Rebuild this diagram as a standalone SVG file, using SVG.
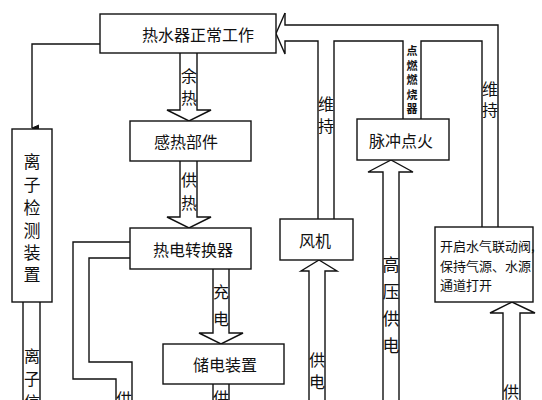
<svg xmlns="http://www.w3.org/2000/svg" width="542" height="400" viewBox="0 0 542 400">
<defs>
<style>
.b{fill:#fff;stroke:#111;stroke-width:1.4}
.c{fill:none;stroke:#111;stroke-width:1.4;stroke-linejoin:miter}
text{font-family:"Noto Sans CJK SC","Noto Sans",sans-serif;fill:#111;dominant-baseline:central}
.t{font-size:16px;text-anchor:middle}
.v{font-size:16px;text-anchor:middle}
.s{font-size:11px;font-weight:bold;text-anchor:middle}
.m{font-size:13px}
</style>
<marker id="ah" markerWidth="8" markerHeight="8" refX="4" refY="7" orient="auto" markerUnits="userSpaceOnUse">
<path d="M1,0 L4,7 L7,0" fill="#111" stroke="#111" stroke-width="1"/>
</marker>
</defs>
<rect width="542" height="400" fill="#fff"/>
<g id="connectors">
<!-- big feedback arrow into 热水器正常工作 -->
<path class="c" d="M285,13 L276,33.5 L285,54 L285,41 L318,41 L318,219"/>
<path class="c" d="M285,13 L285,25 L498,25 L498,227"/>
<path class="c" d="M334,219 L334,41 L403,41 L403,119"/>
<path class="c" d="M421,119 L421,41 L482,41 L482,227"/>
<!-- 余热 -->
<path class="c" d="M180,53 L180,110 L167,110 L189,121 L211,110 L197,110 L197,53"/>
<!-- 供热 -->
<path class="c" d="M180,161 L180,217 L167,217 L189,228 L211,217 L197,217 L197,161"/>
<!-- 充电 -->
<path class="c" d="M213,269 L213,333 L199,333 L221,344 L243,333 L229,333 L229,269"/>
<!-- 储电 供 -->
<path class="c" d="M213,384 L213,400 M229,384 L229,400"/>
<!-- left channel from 热电转换器 -->
<path class="c" d="M130,242 L73,242 L73,379 L116,379 L116,400"/>
<path class="c" d="M130,258 L89,258 L89,362 L132,362 L132,400"/>
<!-- 离子 channel -->
<path class="c" d="M23,302 L23,400 M40,302 L40,400"/>
<!-- line to 离子检测装置 -->
<path class="c" d="M100,44 L32,44 L32,128" marker-end="url(#ah)"/>
<!-- 风机 供电 -->
<path class="c" d="M309,400 L309,271 L301,271 L319,260 L337,271 L325,271 L325,400"/>
<!-- 高压供电 -->
<path class="c" d="M383,400 L383,172 L368,172 L391,160 L413,172 L399,172 L399,400"/>
<!-- 开启 supply -->
<path class="c" d="M503,400 L503,313 L490,313 L512,302 L535,313 L520,313 L520,400"/>
<!-- connector labels -->
<text class="v" x="189" y="75">余</text>
<text class="v" x="189" y="97">热</text>
<text class="v" x="189" y="179">供</text>
<text class="v" x="189" y="202">热</text>
<text class="v" x="221" y="291">充</text>
<text class="v" x="221" y="318">电</text>
<text class="v" x="221" y="397">供</text>
<text class="v" x="124" y="398">供</text>
<text class="v" x="32" y="355">离</text>
<text class="v" x="32" y="378">子</text>
<text class="v" x="32" y="401">信</text>
<text class="v" x="326" y="103">维</text>
<text class="v" x="326" y="125">持</text>
<text class="v" x="490" y="88">维</text>
<text class="v" x="490" y="109">持</text>
<text class="s" x="412" y="50">点</text>
<text class="s" x="412" y="64.5">燃</text>
<text class="s" x="412" y="79">燃</text>
<text class="s" x="412" y="93.5">烧</text>
<text class="s" x="412" y="108">器</text>
<text class="v" x="317" y="359">供</text>
<text class="v" x="317" y="381">电</text>
<text class="v" x="391" y="263" style="font-size:17px">高</text>
<text class="v" x="391" y="290" style="font-size:17px">压</text>
<text class="v" x="391" y="317" style="font-size:17px">供</text>
<text class="v" x="391" y="344" style="font-size:17px">电</text>
<text class="v" x="511" y="391">供</text>
</g>
<g id="n1"><rect class="b" x="100" y="14" width="176" height="39"/><text class="t" x="198" y="34">热水器正常工作</text></g>
<g id="n2"><rect class="b" x="130" y="121" width="121" height="40"/><text class="t" x="186" y="141">感热部件</text></g>
<g id="n3"><rect class="b" x="130" y="228" width="121" height="41"/><text class="t" x="193" y="249">热电转换器</text></g>
<g id="n4"><rect class="b" x="163" y="344" width="121" height="40"/><text class="t" x="225" y="364">储电装置</text></g>
<g id="n5"><rect class="b" x="12" y="129" width="40" height="173"/>
<text class="v" x="32" y="160" style="font-size:17px">离</text>
<text class="v" x="32" y="183" style="font-size:17px">子</text>
<text class="v" x="32" y="206" style="font-size:17px">检</text>
<text class="v" x="32" y="229" style="font-size:17px">测</text>
<text class="v" x="32" y="251" style="font-size:17px">装</text>
<text class="v" x="32" y="273" style="font-size:17px">置</text>
</g>
<g id="n6"><rect class="b" x="280" y="219" width="73" height="41"/><text class="t" x="315" y="240">风机</text></g>
<g id="n7"><rect class="b" x="357" y="119" width="92" height="41"/><text class="t" x="401" y="140">脉冲点火</text></g>
<g id="n8"><rect class="b" x="435" y="227" width="98" height="75"/>
<text class="m" x="440" y="245">开启水气联动阀,</text>
<text class="m" x="440" y="265">保持气源、水源</text>
<text class="m" x="440" y="284">通道打开</text>
</g>
</svg>
